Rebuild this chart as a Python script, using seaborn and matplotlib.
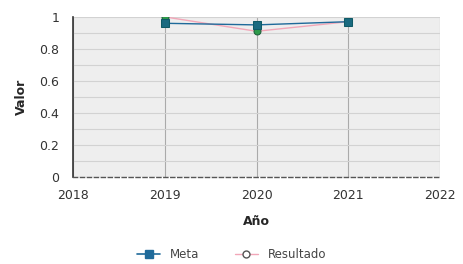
import matplotlib
matplotlib.use("Agg")
import matplotlib.pyplot as plt
import seaborn as sns
import pandas as pd
import numpy as np

years = [2019, 2020, 2021]
meta = [0.96, 0.95, 0.97]
resultado = [1.0, 0.91, 0.97]
series_names = ["Meta", "Resultado"]

df = pd.DataFrame({
    "Año": years * 2,
    "Valor": meta + resultado,
    "Serie": [series_names[0]] * 3 + [series_names[1]] * 3,
})

sns.set_style("white")
plt.rcParams['font.family'] = ['DejaVu Sans']

fig = plt.figure(figsize=(4.63, 2.64), dpi=100)
ax = fig.add_axes([0.158, 0.330, 0.792, 0.606])
ax.set_facecolor("#eeeeee")

palette = {"Meta": "#1f6a9a", "Resultado": "#f2a7b8"}
sns.lineplot(data=df[df.Serie == "Resultado"], x="Año", y="Valor", ax=ax,
             color=palette["Resultado"], marker="o", markersize=5,
             markerfacecolor="#2e9a4a", markeredgecolor="#1d5e3a",
             linewidth=1.0, label="Resultado", legend=False, zorder=3)
sns.lineplot(data=df[df.Serie == "Meta"], x="Año", y="Valor", ax=ax,
             color=palette["Meta"], marker="s", markersize=6,
             markerfacecolor="#1a6a80", markeredgecolor="#0f5a66",
             linewidth=1.0, label="Meta", legend=False, zorder=4)

ax.set_xlim(2018, 2022)
ax.set_ylim(0, 1)
ax.set_xticks([2018, 2019, 2020, 2021, 2022])
ax.set_yticks([0, 0.2, 0.4, 0.6, 0.8, 1.0])
ax.set_yticklabels(["0", "0.2", "0.4", "0.6", "0.8", "1"])
ax.set_yticks(np.arange(0, 1.01, 0.1), minor=True)

ax.grid(axis="y", which="both", color="#d2d2d2", linewidth=0.8)
ax.grid(axis="x", which="major", color="#aaaaaa", linewidth=0.8)
ax.set_axisbelow(True)

for s in ["top", "right"]:
    ax.spines[s].set_visible(False)
ax.spines["left"].set_color("#333333")
ax.spines["left"].set_linewidth(1.2)
ax.spines["bottom"].set_color("#555555")
ax.spines["bottom"].set_linestyle((0, (3, 2)))
ax.spines["bottom"].set_linewidth(1.0)

ax.tick_params(axis="both", which="both", length=0, labelsize=9, colors="#333333")
ax.tick_params(axis="x", pad=9)
ax.tick_params(axis="y", pad=10)
ax.set_xlabel("Año", fontsize=9, fontweight="bold", labelpad=9)
ax.set_ylabel("Valor", fontsize=9, fontweight="bold", labelpad=8)

# right border of plot area
ax.axvline(2022, color="#dddddd", linewidth=0.8)

handles = [
    plt.Line2D([], [], color=palette["Meta"], marker="s", markersize=6,
               markerfacecolor="#1f6a9a", markeredgecolor="#1f6a9a", linewidth=1.2),
    plt.Line2D([], [], color=palette["Resultado"], marker="o", markersize=5,
               markerfacecolor="white", markeredgecolor="#555555", linewidth=1.0),
]
fig.legend(handles, series_names, loc="lower center", bbox_to_anchor=(0.5, -0.03),
           ncol=2, frameon=False, fontsize=8.5, handlelength=2, columnspacing=3,
           labelcolor="#444444")

fig.savefig("out.png", dpi=100)
